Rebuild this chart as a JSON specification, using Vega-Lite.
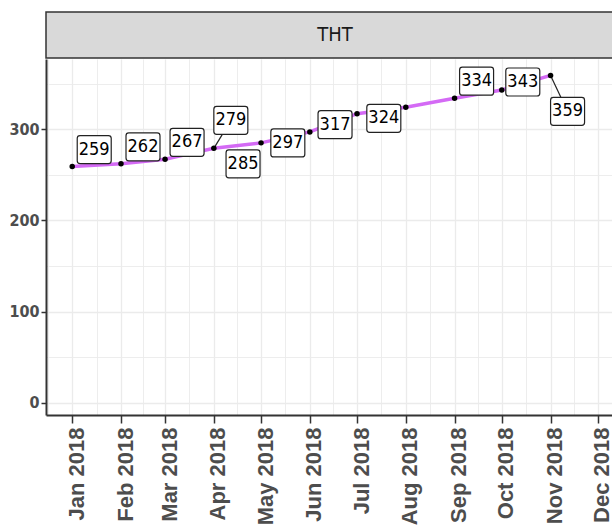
{
  "$schema": "https://vega.github.io/schema/vega-lite/v6.json",
  "padding": {"left": 8, "top": 11, "right": 0, "bottom": 0},
  "spacing": 0,
  "config": {
    "view": {"stroke": null},
    "font": "'Liberation Sans Narrow', 'DejaVu Sans Condensed', 'Liberation Sans', sans-serif"
  },
  "datasets": {
    "series": [
      {"month": "2018-01-01", "value": 259},
      {"month": "2018-02-01", "value": 262},
      {"month": "2018-03-01", "value": 267},
      {"month": "2018-04-01", "value": 279},
      {"month": "2018-05-01", "value": 285},
      {"month": "2018-06-01", "value": 297},
      {"month": "2018-07-01", "value": 317},
      {"month": "2018-08-01", "value": 324},
      {"month": "2018-09-01", "value": 334},
      {"month": "2018-10-01", "value": 343},
      {"month": "2018-11-01", "value": 359}
    ]
  },
  "vconcat": [
    {
      "width": 578,
      "height": 46,
      "view": {"fill": "#d9d9d9", "stroke": "#333333", "strokeWidth": 1.5},
      "data": {"values": [{"panel": "THT"}]},
      "mark": {"type": "text", "font": "'Liberation Sans Narrow', 'DejaVu Sans Condensed', 'Liberation Sans', sans-serif", "fontSize": 20, "color": "#1a1a1a", "baseline": "middle", "align": "center"},
      "encoding": {"text": {"field": "panel"}}
    },
    {
      "width": 578,
      "height": 356,
      "data": {"name": "series"},
      "encoding": {
        "x": {
          "field": "month",
          "type": "temporal",
          "scale": {"type": "utc", "domain": [{"year": 2017, "month": 12, "date": 15, "hours": 8, "utc": true}, {"year": 2018, "month": 12, "date": 17, "hours": 16, "utc": true}]},
          "axis": {
            "title": null,
            "values": [
              {"year": 2017, "month": 12, "date": 16, "hours": 12, "utc": true},
              {"year": 2018, "month": 1, "date": 1, "utc": true},
              {"year": 2018, "month": 1, "date": 16, "hours": 12, "utc": true},
              {"year": 2018, "month": 2, "date": 1, "utc": true},
              {"year": 2018, "month": 2, "date": 15, "utc": true},
              {"year": 2018, "month": 3, "date": 1, "utc": true},
              {"year": 2018, "month": 3, "date": 16, "hours": 12, "utc": true},
              {"year": 2018, "month": 4, "date": 1, "utc": true},
              {"year": 2018, "month": 4, "date": 16, "utc": true},
              {"year": 2018, "month": 5, "date": 1, "utc": true},
              {"year": 2018, "month": 5, "date": 16, "hours": 12, "utc": true},
              {"year": 2018, "month": 6, "date": 1, "utc": true},
              {"year": 2018, "month": 6, "date": 16, "utc": true},
              {"year": 2018, "month": 7, "date": 1, "utc": true},
              {"year": 2018, "month": 7, "date": 16, "hours": 12, "utc": true},
              {"year": 2018, "month": 8, "date": 1, "utc": true},
              {"year": 2018, "month": 8, "date": 16, "hours": 12, "utc": true},
              {"year": 2018, "month": 9, "date": 1, "utc": true},
              {"year": 2018, "month": 9, "date": 16, "utc": true},
              {"year": 2018, "month": 10, "date": 1, "utc": true},
              {"year": 2018, "month": 10, "date": 16, "hours": 12, "utc": true},
              {"year": 2018, "month": 11, "date": 1, "utc": true},
              {"year": 2018, "month": 11, "date": 16, "utc": true},
              {"year": 2018, "month": 12, "date": 1, "utc": true}
            ],
            "labelExpr": "utcdate(datum.value) == 1 ? utcFormat(datum.value, '%b %Y') : ''",
            "labelAngle": -90,
            "labelFont": "'Liberation Sans', Arial, sans-serif",
            "labelFontWeight": "bold",
            "labelFontSize": 22,
            "labelColor": "#4d4d4d",
            "labelOverlap": false,
            "labelFlush": false,
            "labelBound": false,
            "labelPadding": 4,
            "labelOffset": 4,
            "tickSize": 8,
            "tickWidth": 1.5,
            "tickColor": {"condition": {"test": "utcdate(datum.value) == 1", "value": "#333333"}, "value": "transparent"},
            "domainColor": "#333333",
            "domainWidth": 2,
            "grid": true,
            "gridColor": "#ebebeb",
            "gridWidth": {"condition": {"test": "utcdate(datum.value) == 1", "value": 1.3}, "value": 0.9}
          }
        },
        "y": {
          "field": "value",
          "type": "quantitative",
          "scale": {"domain": [-13.5, 377], "nice": false, "zero": false},
          "axis": {
            "title": null,
            "values": [0, 50, 100, 150, 200, 250, 300, 350],
            "labelExpr": "datum.value % 100 == 0 ? datum.label : ''",
            "labelFont": "'Liberation Sans Narrow', 'DejaVu Sans Condensed', 'Liberation Sans', sans-serif",
            "labelFontWeight": "bold",
            "labelFontSize": 16,
            "labelColor": "#4d4d4d",
            "labelPadding": 2,
            "tickSize": 5,
            "tickWidth": 1.5,
            "tickColor": {"condition": {"test": "datum.value % 100 == 0", "value": "#333333"}, "value": "transparent"},
            "domainColor": "#333333",
            "domainWidth": 2,
            "grid": true,
            "gridColor": "#ebebeb",
            "gridWidth": {"condition": {"test": "datum.value % 100 == 0", "value": 1.3}, "value": 0.9}
          }
        }
      },
      "layer": [
        {"mark": {"type": "line", "color": "#d46af5", "strokeWidth": 3.5}},
        {
          "transform": [{"filter": {"field": "value", "equal": 279}}],
          "mark": {"type": "rule", "color": "#222222", "strokeWidth": 1.2, "x2Offset": 17, "y2Offset": -28},
          "encoding": {"x2": {"field": "month"}, "y2": {"field": "value"}}
        },
        {
          "transform": [{"filter": {"field": "value", "equal": 359}}],
          "mark": {"type": "rule", "color": "#222222", "strokeWidth": 1.2, "x2Offset": 17, "y2Offset": 36},
          "encoding": {"x2": {"field": "month"}, "y2": {"field": "value"}}
        },
        {"mark": {"type": "point", "filled": true, "color": "#000000", "size": 30, "opacity": 1}},
        {
          "transform": [{"filter": {"field": "value", "oneOf": [259, 262, 267, 334]}}],
          "layer": [
            {"mark": {"type": "point", "shape": "M-1.014,-1H1.014Q1.214,-1 1.214,-0.8V0.8Q1.214,1 1.014,1H-1.014Q-1.214,1 -1.214,0.8V-0.8Q-1.214,-1 -1.014,-1Z", "size": 784, "filled": true, "fill": "white", "stroke": "#222222", "strokeWidth": 1.2, "opacity": 1, "xOffset": 22, "yOffset": -17}},
            {"mark": {"type": "text", "font": "'Liberation Sans Narrow', 'DejaVu Sans Condensed', 'Liberation Sans', sans-serif", "fontSize": 18, "color": "#000000", "xOffset": 22, "yOffset": -17, "baseline": "middle"}, "encoding": {"text": {"field": "value"}}}
          ]
        },
        {
          "transform": [{"filter": {"field": "value", "equal": 343}}],
          "layer": [
            {"mark": {"type": "point", "shape": "M-1.014,-1H1.014Q1.214,-1 1.214,-0.8V0.8Q1.214,1 1.014,1H-1.014Q-1.214,1 -1.214,0.8V-0.8Q-1.214,-1 -1.014,-1Z", "size": 784, "filled": true, "fill": "white", "stroke": "#222222", "strokeWidth": 1.2, "opacity": 1, "xOffset": 21, "yOffset": -8}},
            {"mark": {"type": "text", "font": "'Liberation Sans Narrow', 'DejaVu Sans Condensed', 'Liberation Sans', sans-serif", "fontSize": 18, "color": "#000000", "xOffset": 21, "yOffset": -8, "baseline": "middle"}, "encoding": {"text": {"field": "value"}}}
          ]
        },
        {
          "transform": [{"filter": {"field": "value", "equal": 279}}],
          "layer": [
            {"mark": {"type": "point", "shape": "M-1.014,-1H1.014Q1.214,-1 1.214,-0.8V0.8Q1.214,1 1.014,1H-1.014Q-1.214,1 -1.214,0.8V-0.8Q-1.214,-1 -1.014,-1Z", "size": 784, "filled": true, "fill": "white", "stroke": "#222222", "strokeWidth": 1.2, "opacity": 1, "xOffset": 17, "yOffset": -28}},
            {"mark": {"type": "text", "font": "'Liberation Sans Narrow', 'DejaVu Sans Condensed', 'Liberation Sans', sans-serif", "fontSize": 18, "color": "#000000", "xOffset": 17, "yOffset": -28, "baseline": "middle"}, "encoding": {"text": {"field": "value"}}}
          ]
        },
        {
          "transform": [{"filter": {"field": "value", "equal": 285}}],
          "layer": [
            {"mark": {"type": "point", "shape": "M-1.014,-1H1.014Q1.214,-1 1.214,-0.8V0.8Q1.214,1 1.014,1H-1.014Q-1.214,1 -1.214,0.8V-0.8Q-1.214,-1 -1.014,-1Z", "size": 784, "filled": true, "fill": "white", "stroke": "#222222", "strokeWidth": 1.2, "opacity": 1, "xOffset": -18, "yOffset": 21}},
            {"mark": {"type": "text", "font": "'Liberation Sans Narrow', 'DejaVu Sans Condensed', 'Liberation Sans', sans-serif", "fontSize": 18, "color": "#000000", "xOffset": -18, "yOffset": 21, "baseline": "middle"}, "encoding": {"text": {"field": "value"}}}
          ]
        },
        {
          "transform": [{"filter": {"field": "value", "oneOf": [297, 317, 324]}}],
          "layer": [
            {"mark": {"type": "point", "shape": "M-1.014,-1H1.014Q1.214,-1 1.214,-0.8V0.8Q1.214,1 1.014,1H-1.014Q-1.214,1 -1.214,0.8V-0.8Q-1.214,-1 -1.014,-1Z", "size": 784, "filled": true, "fill": "white", "stroke": "#222222", "strokeWidth": 1.2, "opacity": 1, "xOffset": -22, "yOffset": 11}},
            {"mark": {"type": "text", "font": "'Liberation Sans Narrow', 'DejaVu Sans Condensed', 'Liberation Sans', sans-serif", "fontSize": 18, "color": "#000000", "xOffset": -22, "yOffset": 11, "baseline": "middle"}, "encoding": {"text": {"field": "value"}}}
          ]
        },
        {
          "transform": [{"filter": {"field": "value", "equal": 359}}],
          "layer": [
            {"mark": {"type": "point", "shape": "M-1.014,-1H1.014Q1.214,-1 1.214,-0.8V0.8Q1.214,1 1.014,1H-1.014Q-1.214,1 -1.214,0.8V-0.8Q-1.214,-1 -1.014,-1Z", "size": 784, "filled": true, "fill": "white", "stroke": "#222222", "strokeWidth": 1.2, "opacity": 1, "xOffset": 17, "yOffset": 36}},
            {"mark": {"type": "text", "font": "'Liberation Sans Narrow', 'DejaVu Sans Condensed', 'Liberation Sans', sans-serif", "fontSize": 18, "color": "#000000", "xOffset": 17, "yOffset": 36, "baseline": "middle"}, "encoding": {"text": {"field": "value"}}}
          ]
        }
      ]
    }
  ]
}
